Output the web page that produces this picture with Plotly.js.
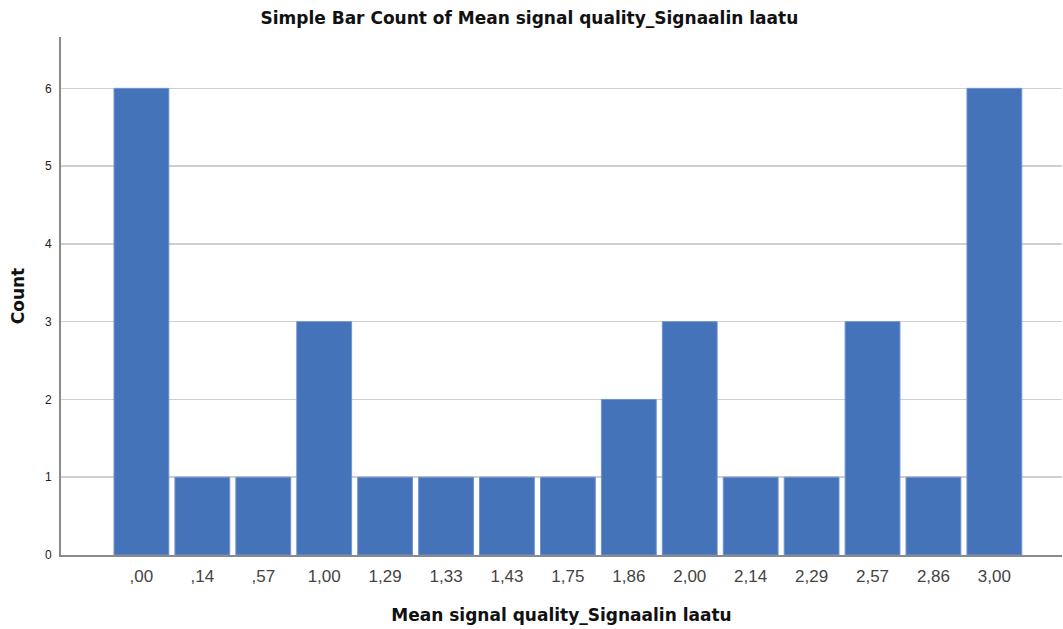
<!DOCTYPE html>
<html>
<head>
<meta charset="utf-8">
<script src="https://cdn.plot.ly/plotly-3.0.1.min.js"></script>
<style>html,body{margin:0;padding:0;background:#fff;}#chart{width:1063px;height:629px;}</style>
</head>
<body>
<div id="chart"></div>
<script>
const categories = [",00", ",14", ",57", "1,00", "1,29", "1,33", "1,43", "1,75", "1,86", "2,00", "2,14", "2,29", "2,57", "2,86", "3,00"];
const counts = [6, 1, 1, 3, 1, 1, 1, 1, 2, 3, 1, 1, 3, 1, 6];
const yTicks = [0, 1, 2, 3, 4, 5, 6];

const trace = {
  type: 'bar',
  x: categories,
  y: counts,
  marker: {color: '#4573b9', line: {color: '#6f94cf', width: 1}},
  hoverinfo: 'x+y'
};

const boldFont = 'DejaVu Sans, Verdana, sans-serif';

const layout = {
  width: 1063,
  height: 629,
  margin: {l: 61, r: 1, t: 37, b: 74},
  paper_bgcolor: '#ffffff',
  plot_bgcolor: '#ffffff',
  font: {family: 'Liberation Sans, Arial, sans-serif', color: '#222'},
  title: {
    text: '<b>Simple Bar Count of Mean signal quality_Signaalin laatu</b>',
    font: {family: boldFont, size: 17, color: '#111'},
    x: 0.498, xanchor: 'center', y: 0.971, yanchor: 'middle'
  },
  bargap: 0.1,
  xaxis: {
    type: 'category',
    range: [-1.32, 15.11],
    showgrid: false,
    showline: true,
    linecolor: '#8a8a8a',
    linewidth: 2,
    ticks: '',
    tickfont: {size: 17, color: '#444'},
    ticklabelstandoff: 5,
    title: {text: '<b>Mean signal quality_Signaalin laatu</b>', font: {family: boldFont, size: 17, color: '#111'}, standoff: 24},
    zeroline: false
  },
  yaxis: {
    range: [0, 6.66],
    tickvals: yTicks,
    ticktext: yTicks.map(String),
    showgrid: true,
    gridcolor: '#cfcfcf',
    gridwidth: 1.5,
    showline: true,
    linecolor: '#8a8a8a',
    linewidth: 2,
    ticks: '',
    tickfont: {size: 12, color: '#222'},
    ticklabelstandoff: 5,
    zeroline: false,
    title: {text: '<b>Count</b>', font: {family: boldFont, size: 17, color: '#111'}, standoff: 16}
  },
  showlegend: false
};

Plotly.newPlot('chart', [trace], layout, {displayModeBar: false, staticPlot: true});
</script>
</body>
</html>
